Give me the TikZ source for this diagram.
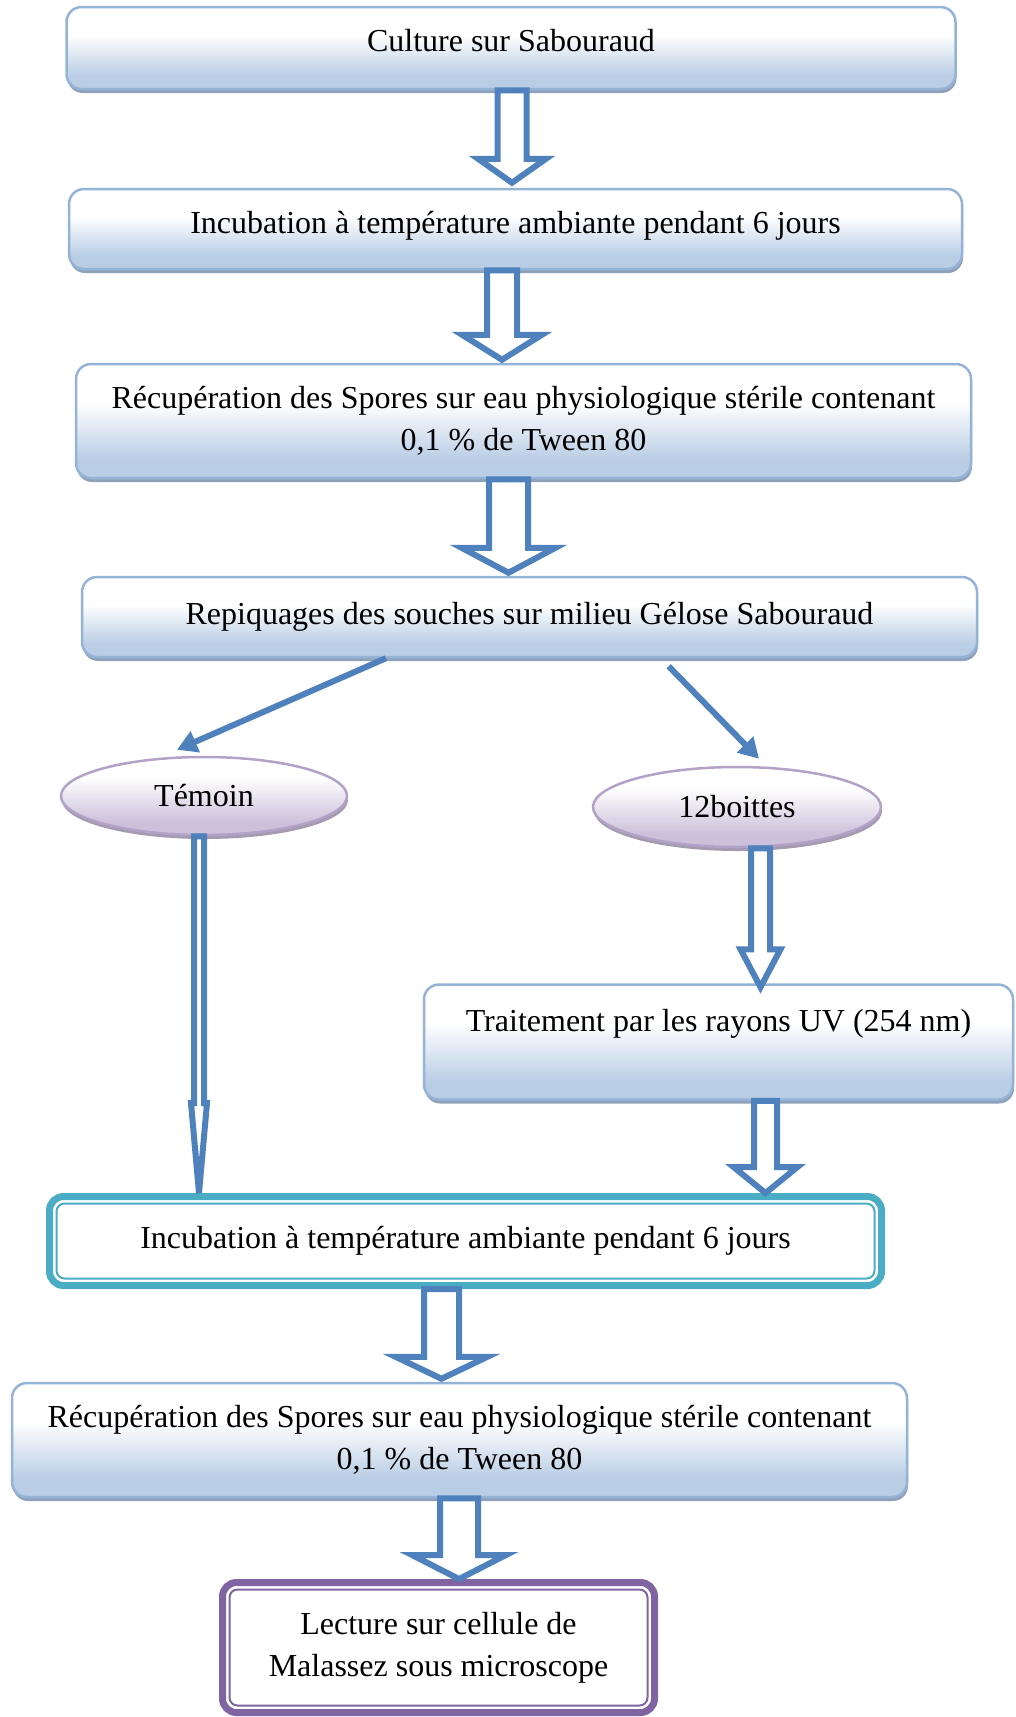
\documentclass[tikz,border=0pt]{standalone}
\usepackage{fontspec}
\setmainfont{Liberation Serif}
\usetikzlibrary{calc,shapes.geometric,shadows,arrows.meta}

\definecolor{boxline}{HTML}{95B3D7}
\definecolor{boxfill}{HTML}{B9CDE5}
\definecolor{boxshadow}{HTML}{8FA1B8}
\definecolor{ovalline}{HTML}{B3A2C7}
\definecolor{ovalfill}{HTML}{CCC0DA}
\definecolor{ovalshadow}{HTML}{A59BB0}
\definecolor{arrowblue}{HTML}{4F81BD}
\definecolor{tealline}{HTML}{4BACC6}
\definecolor{purpleline}{HTML}{8064A2}

\pgfdeclareverticalshading{stepshade}{100bp}{color(0bp)=(boxfill); color(33bp)=(boxfill); color(58bp)=(white); color(100bp)=(white)}
\pgfdeclareverticalshading{ovalshade}{100bp}{color(0bp)=(ovalfill); color(33bp)=(ovalfill); color(62bp)=(white); color(100bp)=(white)}

% hollow block arrow: x, from, to, half shaft, half head, head length
\newcommand{\hollowarrow}[6]{%
  \draw[hollow] let \p1=(#2), \p2=(#3) in
    (#1pt-#4pt,\y1) -- (#1pt+#4pt,\y1) -- (#1pt+#4pt,\y2+#6pt) -- (#1pt+#5pt,\y2+#6pt)
    -- (#1pt,\y2) -- (#1pt-#5pt,\y2+#6pt) -- (#1pt-#4pt,\y2+#6pt) -- cycle;}

\begin{document}
\begin{tikzpicture}[x=1pt,y=-1pt,
  font=\fontsize{32}{42}\selectfont,
  stepbox/.style={rectangle,rounded corners=15pt,draw=boxline,line width=2.5pt,
    shading=stepshade,align=center,inner sep=0pt,
    drop shadow={shadow xshift=1pt,shadow yshift=-4pt,fill=boxshadow,opacity=1}},
  oval/.style={ellipse,draw=ovalline,line width=2.5pt,shading=ovalshade,inner sep=0pt,
    drop shadow={shadow xshift=1pt,shadow yshift=-4pt,fill=ovalshadow,opacity=1}},
  framebox/.style={rectangle,rounded corners=14pt,line width=7pt,fill=white,align=center,inner sep=0pt},
  hollow/.style={draw=arrowblue,line width=6pt,fill=white},
  slim/.style={draw=arrowblue,line width=6pt,-{Triangle[length=20pt,width=22pt]}}]
  \useasboundingbox (0,0) rectangle (1016,1717);

  % main column
  \node[stepbox,minimum width=889pt,minimum height=82pt,text height=22pt,text depth=16pt] (culture) at (511,48) {Culture sur Sabouraud};
  \node[stepbox,minimum width=893pt,minimum height=80pt,text height=22pt,text depth=13pt] (incub) at (515.5,229) {Incubation à température ambiante pendant 6 jours};
  \node[stepbox,minimum width=895pt,minimum height=114pt] (recup) at (523.5,421) {Récupération des Spores sur eau physiologique stérile contenant\\0,1 \% de Tween 80};
  \node[stepbox,minimum width=895pt,minimum height=80pt,text height=22pt,text depth=7pt] (repiq) at (529.5,617) {Repiquages des souches sur milieu Gélose Sabouraud};

  % two branches
  \node[oval,minimum width=286pt,minimum height=78pt] (temoin) at (204,796) {Témoin};
  \node[oval,minimum width=288pt,minimum height=80pt] (boittes) at (737,807) {12boittes};
  \node[stepbox,minimum width=589pt,minimum height=115pt,text height=22pt,text depth=44pt] (uv) at (718.5,1042) {Traitement par les rayons UV (254 nm)};

  % end of the chain
  \node[framebox,draw=tealline,minimum width=832pt,minimum height=89pt] (incub2) at (465.5,1241) {Incubation à température ambiante pendant 6 jours};
  \draw[tealline,line width=2pt,rounded corners=8pt] ([shift={(10.5,10.5)}]incub2.north west) rectangle ([shift={(-10.5,-10.5)}]incub2.south east);
  \node[stepbox,minimum width=895pt,minimum height=114pt] (recup2) at (459.5,1440) {Récupération des Spores sur eau physiologique stérile contenant\\0,1 \% de Tween 80};
  \node[framebox,draw=purpleline,minimum width=432pt,minimum height=130pt] (lecture) at (438.5,1647.5) {Lecture sur cellule de\\Malassez sous microscope};
  \draw[purpleline,line width=2pt,rounded corners=8pt] ([shift={(10.5,10.5)}]lecture.north west) rectangle ([shift={(-10.5,-10.5)}]lecture.south east);

  % block arrows
  \hollowarrow{512}{culture.south}{$(incub.north)+(0,-5)$}{14.5}{34}{24}
  \hollowarrow{502}{incub.south}{$(recup.north)+(0,-3)$}{15}{40}{25}
  \hollowarrow{508.5}{recup.south}{$(repiq.north)+(0,-3)$}{19.5}{47}{25}
  \hollowarrow{760.5}{boittes.south}{$(uv.north)+(0,4)$}{9.5}{20}{38}
  \hollowarrow{199}{temoin.south}{incub2.north}{5}{8}{90}
  \hollowarrow{765.5}{uv.south}{incub2.north}{11.5}{32}{26}
  \hollowarrow{441.5}{incub2.south}{$(recup2.north)+(0,-3)$}{17.5}{46}{22}
  \hollowarrow{459}{recup2.south}{lecture.north}{19}{47}{24}

  % split arrows
  \coordinate (repL) at ($(repiq.south west)!0.34!(repiq.south east)$);
  \coordinate (temT) at ($(temoin.north)+(-27,-6)$);
  \coordinate (repR) at ($(repiq.south west)!0.655!(repiq.south east)+(0,8)$);
  \coordinate (boiT) at ($(boittes.north)+(22,-7)$);
  \draw[slim] (repL) -- (temT);
  \draw[slim] (repR) -- (boiT);
\end{tikzpicture}
\end{document}
